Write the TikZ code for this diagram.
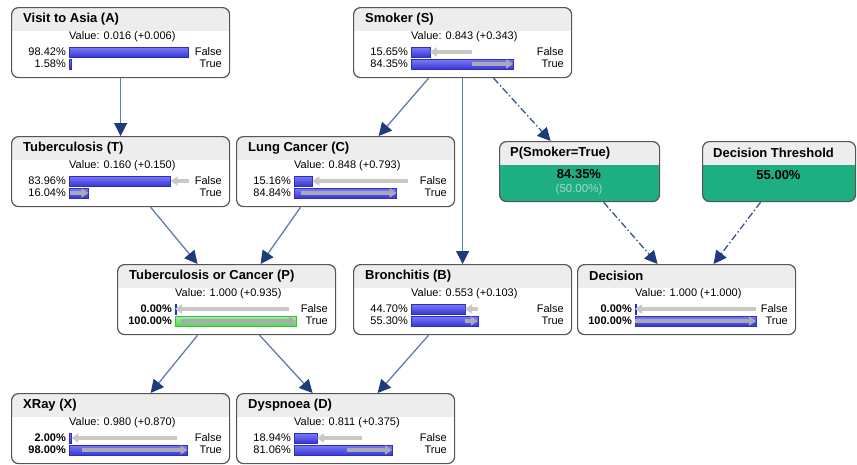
\documentclass[tikz,border=0pt]{standalone}
\usepackage{fontspec}
\setmainfont{Liberation Sans}
\usetikzlibrary{arrows.meta}
\definecolor{boxc}{RGB}{85,85,85}
\definecolor{hdr}{RGB}{237,237,237}
\definecolor{dgreen}{RGB}{29,175,130}
\definecolor{pale}{RGB}{165,215,195}
\definecolor{barT}{RGB}{125,125,245}
\definecolor{barB}{RGB}{55,55,215}
\definecolor{barD}{RGB}{45,45,195}
\definecolor{grT}{RGB}{160,242,160}
\definecolor{grB}{RGB}{85,212,85}
\definecolor{grD}{RGB}{60,190,60}
\definecolor{chgo}{RGB}{200,200,200}
\definecolor{chgi}{RGB}{170,170,182}
\definecolor{linkc}{RGB}{95,125,175}
\definecolor{dlinkc}{RGB}{55,85,150}
\definecolor{headc}{RGB}{30,60,125}
\tikzset{
  box/.style={draw=boxc, line width=1.2pt, rounded corners=7pt, fill=white,
    minimum width=218pt, minimum height=70pt, inner sep=0pt, anchor=north west,
    path picture={\fill[hdr, sharp corners] ([yshift=2pt]path picture bounding box.north west) rectangle ([yshift=-23pt]path picture bounding box.north east);}},
  dbox/.style={box, fill=dgreen, minimum height=60pt},
  ttl/.style={font=\bfseries\fontsize{13}{15}\selectfont, anchor=west, inner sep=0pt},
  val/.style={font=\fontsize{11}{13}\selectfont, anchor=west, inner sep=0pt},
  pct/.style={font=\fontsize{11}{13}\selectfont, anchor=east, inner sep=0pt},
  st/.style={font=\fontsize{11}{13}\selectfont, anchor=east, inner sep=0pt},
  bbar/.style={top color=barT, bottom color=barB, draw=barD, line width=0.5pt},
  gbar/.style={top color=grT, bottom color=grB, draw=grD, line width=0.5pt},
  chgout/.style={draw=chgo, line width=3.5pt, -{Triangle[length=7pt,width=9pt]}},
  chgin/.style={draw=chgi, line width=3.5pt, -{Triangle[length=7pt,width=9pt]}},
  link/.style={draw=linkc, line width=1.3pt, -{Triangle[length=13pt,width=13pt,color=headc]}},
  dlink/.style={link, draw=dlinkc, dash pattern=on 7pt off 2.5pt on 1.5pt off 2.5pt},
}
% node with title and value
\newcommand{\bn}[5]{%
  \node[box] (#1) at (#2,#3) {};
  \node[ttl] (#1t) at ({#2+12},{#3+12}) {#4};
  \node[val] (#1v) at ({#2+58},{#3+30}) {Value: #5};
}
% bar row: name, left, top, offset, pct, pct text, state, bar style
\newcommand{\br}[8]{%
  \path[#8] ({#2+58},{#3+#4}) rectangle ({#2+58+max(1.5,1.21*#5)},{#3+#4+10});
  \node[pct] (#1p) at ({#2+55},{#3+#4+5}) {#6};
  \node[st] (#1s) at ({#2+211},{#3+#4+5}) {#7};
}
% change arrow: left, top, offset, from, to, style
\newcommand{\cg}[6]{%
  \draw[#6] ({#1+58+1.21*#4},{#2+#3+5}) -- ({#1+58+1.21*#5},{#2+#3+5});
}
\begin{document}
\begin{tikzpicture}[x=1pt,y=-1pt]
\useasboundingbox (0,0) rectangle (857,464);

% Visit to Asia
\bn{A}{11}{7}{Visit to Asia (A)}{0.016 (+0.006)}
\br{Af}{11}{7}{40}{98.42}{98.42\%}{False}{bbar}
\br{Ar}{11}{7}{52}{1.58}{1.58\%}{True}{bbar}

% Smoker
\bn{S}{353}{7}{Smoker (S)}{0.843 (+0.343)}
\br{Sf}{353}{7}{40}{15.65}{15.65\%}{False}{bbar}
\br{Sr}{353}{7}{52}{84.35}{84.35\%}{True}{bbar}
\cg{353}{7}{40}{50}{15.65}{chgout}
\cg{353}{7}{52}{50}{84.35}{chgin}

% Tuberculosis
\bn{T}{11}{136}{Tuberculosis (T)}{0.160 (+0.150)}
\br{Tf}{11}{136}{40}{83.96}{83.96\%}{False}{bbar}
\br{Tr}{11}{136}{52}{16.04}{16.04\%}{True}{bbar}
\cg{11}{136}{40}{99}{83.96}{chgout}
\cg{11}{136}{52}{1}{16.04}{chgin}

% Lung Cancer
\bn{C}{236}{136}{Lung Cancer (C)}{0.848 (+0.793)}
\br{Cf}{236}{136}{40}{15.16}{15.16\%}{False}{bbar}
\br{Cr}{236}{136}{52}{84.84}{84.84\%}{True}{bbar}
\cg{236}{136}{40}{94.5}{15.16}{chgout}
\cg{236}{136}{52}{5.5}{84.84}{chgin}

% P(Smoker=True)
\node[dbox, minimum width=160pt] (PS) at (499,141) {};
\node[ttl] (PSt) at (510,153) {P(Smoker=True)};
\node[font=\bfseries\fontsize{13}{15}\selectfont, inner sep=0pt] (PSv) at (579,174) {84.35\%};
\node[font=\fontsize{11.5}{13}\selectfont, text=pale, inner sep=0pt] (PSp) at (579,190) {(50.00\%)};

% Decision Threshold
\node[dbox, minimum width=153pt] (DT) at (702,141) {};
\node[ttl] (DTt) at (713,153) {Decision Threshold};
\node[font=\bfseries\fontsize{13}{15}\selectfont, inner sep=0pt] (DTv) at (778.5,175) {55.00\%};

% Tuberculosis or Cancer
\bn{P}{117}{264}{Tuberculosis or Cancer (P)}{1.000 (+0.935)}
\br{Pf}{117}{264}{40}{0}{\textbf{0.00\%}}{False}{bbar}
\br{Pr}{117}{264}{52}{100}{\textbf{100.00\%}}{True}{gbar}
\cg{117}{264}{40}{94}{0}{chgout}
\cg{117}{264}{52}{5}{100}{chgin}

% Bronchitis
\bn{B}{353}{264}{Bronchitis (B)}{0.553 (+0.103)}
\br{Bf}{353}{264}{40}{44.70}{44.70\%}{False}{bbar}
\br{Br}{353}{264}{52}{55.30}{55.30\%}{True}{bbar}
\cg{353}{264}{40}{55}{44.70}{chgout}
\cg{353}{264}{52}{45}{55.30}{chgin}

% Decision
\bn{Dec}{577}{264}{Decision}{1.000 (+1.000)}
\br{Decf}{577}{264}{40}{0}{\textbf{0.00\%}}{False}{bbar}
\br{Decr}{577}{264}{52}{100}{\textbf{100.00\%}}{True}{bbar}
\cg{577}{264}{40}{100}{0}{chgout}
\cg{577}{264}{52}{0}{100}{chgin}

% XRay
\bn{X}{11}{393}{XRay (X)}{0.980 (+0.870)}
\br{Xf}{11}{393}{40}{2}{\textbf{2.00\%}}{False}{bbar}
\br{Xr}{11}{393}{52}{98}{\textbf{98.00\%}}{True}{bbar}
\cg{11}{393}{40}{89}{2}{chgout}
\cg{11}{393}{52}{11}{98}{chgin}

% Dyspnoea
\bn{D}{236}{393}{Dyspnoea (D)}{0.811 (+0.375)}
\br{Df}{236}{393}{40}{18.94}{18.94\%}{False}{bbar}
\br{Dr}{236}{393}{52}{81.06}{81.06\%}{True}{bbar}
\cg{236}{393}{40}{56}{18.94}{chgout}
\cg{236}{393}{52}{44}{81.06}{chgin}

% connectors
\draw[link] (A.south) -- (T.north);
\draw[link] ([xshift=-34pt]S.south) -- ([xshift=33pt]C.north);
\draw[link] (S.south) -- (B.north);
\draw[dlink] ([xshift=31pt]S.south) -- ([xshift=-29pt]PS.north);
\draw[dlink] ([xshift=24pt]PS.south) -- ([xshift=-29pt]Dec.north);
\draw[dlink] ([xshift=-18.5pt]DT.south) -- ([xshift=27pt]Dec.north);
\draw[link] ([xshift=30pt]T.south) -- ([xshift=-29pt]P.north);
\draw[link] ([xshift=-45pt]C.south) -- ([xshift=34pt]P.north);
\draw[link] ([xshift=-29pt]P.south) -- ([xshift=30pt]X.north);
\draw[link] ([xshift=33pt]P.south) -- ([xshift=-33pt]D.north);
\draw[link] ([xshift=-34pt]B.south) -- ([xshift=32pt]D.north);
\end{tikzpicture}
\end{document}
